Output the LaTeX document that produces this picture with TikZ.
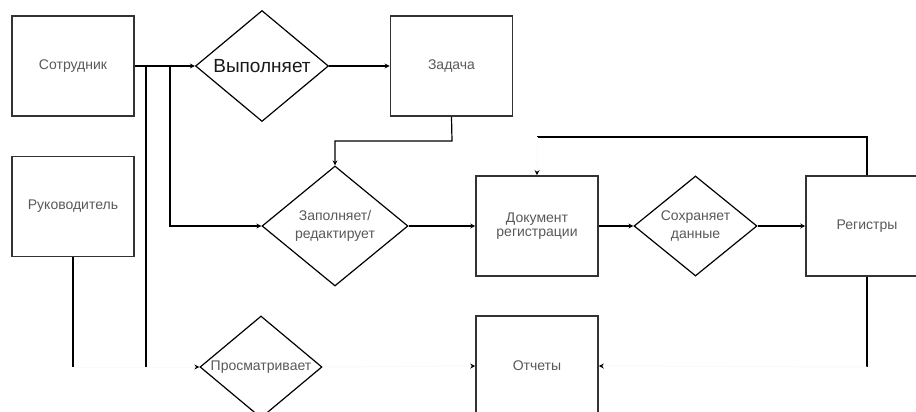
\documentclass[tikz,border=0pt]{standalone}
\usepackage{fontspec}
\setmainfont{Liberation Sans}
\usetikzlibrary{shapes.geometric,arrows.meta,calc}
\begin{document}
\begin{tikzpicture}[x=1pt,y=-1pt,
  box/.style={draw=black!80,line width=1.6pt,rectangle,minimum width=122pt,minimum height=100pt,inner sep=0pt,font=\fontsize{14}{16}\selectfont,text=black!65,align=center},
  dia/.style={draw=black,line width=1.2pt,diamond,inner sep=0pt,font=\fontsize{14}{18}\selectfont,text=black!65,align=center},
  conn/.style={draw=black,line width=1.2pt},
  arr/.style={conn,-{Stealth[length=5pt,width=5pt,color=black]}},
  faint/.style={draw=black!2,line width=1pt},
  farr/.style={faint,-{Stealth[length=5pt,width=5pt,color=black]}}
]
\useasboundingbox (0,0) rectangle (916,412);
\clip (0,0) rectangle (916,412);
\fill[white] (0,0) rectangle (916,412);
% boxes
\node[box] (sot) at (73,66) {Сотрудник};
\node[box] (zad) at (451.5,66) {Задача};
\node[box] (ruk) at (73,206.5) {Руководитель};
\node[box,font=\fontsize{14}{14}\selectfont] (doc) at (537,226) {Документ\\регистрации};
\node[box] (reg) at (867,226) {Регистры};
\node[box] (otch) at (537,366) {Отчеты};
% diamonds
\node[dia,minimum width=133pt,minimum height=111pt,font=\fontsize{19}{22}\selectfont,text=black!90] (vyp) at (262,66) {\makebox[0pt]{Выполняет}};
\node[dia,minimum width=146pt,minimum height=120pt] (zap) at (335,226) {Заполняет/\\редактирует};
\node[dia,minimum width=123pt,minimum height=100pt] (sohr) at (695.5,226) {Сохраняет\\данные};
\node[dia,minimum width=122pt,minimum height=102pt] (pros) at (261,367) {\makebox[0pt]{Просматривает}};
% junctions and bends
\coordinate (j1) at (146,66);
\coordinate (j2) at (170,66);
\coordinate (j1b) at (146,367);
\coordinate (rb) at (73,367);
\coordinate (zb) at (452,141);
\coordinate (rt) at (867,137);
\coordinate (rt2) at (537,137);
\coordinate (rbot) at (867,367);
% connectors
\draw[arr] (sot.east) -- (vyp.west);
\draw[conn] (j1) -- (j1b);
\draw[arr] (j2) |- (zap.west);
\draw[arr] (vyp.east) -- (zad.west);
\draw[arr] (zad.south) -- (zb) -| (zap.north);
\draw[arr] (zap.east) -- (doc.west);
\draw[arr] (doc.east) -- (sohr.west);
\draw[arr] (sohr.east) -- (reg.west);
\draw[conn] (reg.north) -- (rt) -- (rt2);
\draw[farr] (rt2) -- (doc.north);
\draw[conn] (ruk.south) -- (rb);
\draw[faint] (rb) -- (j1b);
\draw[farr] (j1b) -- (pros.west);
\draw[farr] (pros.east) -- (otch.west);
\draw[conn] (reg.south) -- (rbot);
\draw[farr] (rbot) -- (otch.east);
\end{tikzpicture}
\end{document}
